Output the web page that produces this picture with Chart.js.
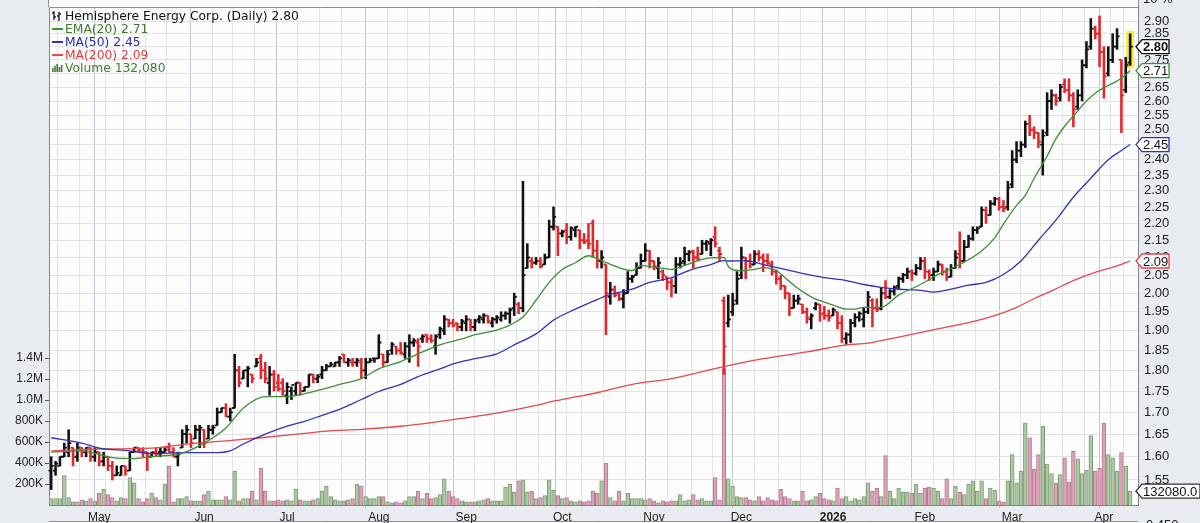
<!DOCTYPE html>
<html><head><meta charset="utf-8">
<script src="https://cdn.jsdelivr.net/npm/chart.js@4"></script>
<style>html,body{margin:0;padding:0;background:#e8ecf0;overflow:hidden}#wrap{width:1200px;height:523px}</style>
</head><body><div id="wrap"><canvas id="c" width="1200" height="523"></canvas></div>
<script>
const chartTitle = 'Hemisphere Energy Corp. (Daily)';
const opens = [1.57,1.57,1.58,1.60,1.61,1.62,1.60,1.62,1.61,1.62,
1.60,1.61,1.59,1.60,1.58,1.56,1.56,1.58,1.57,1.61,
1.62,1.61,1.61,1.60,1.61,1.61,1.61,1.62,1.61,1.60,
1.62,1.65,1.65,1.64,1.66,1.66,1.64,1.66,1.67,1.70,
1.71,1.69,1.71,1.80,1.78,1.80,1.79,1.81,1.83,1.80,
1.77,1.79,1.77,1.77,1.74,1.75,1.75,1.77,1.75,1.76,
1.79,1.78,1.79,1.80,1.81,1.81,1.82,1.84,1.82,1.82,
1.82,1.82,1.80,1.82,1.83,1.83,1.84,1.82,1.85,1.86,
1.85,1.84,1.86,1.87,1.87,1.88,1.89,1.88,1.86,1.89,
1.90,1.93,1.92,1.92,1.91,1.92,1.93,1.91,1.93,1.93,
1.94,1.92,1.93,1.93,1.94,1.945,1.96,1.97,1.96,2.07,
2.09,2.085,2.09,2.08,2.10,2.19,2.19,2.17,2.18,2.16,
2.18,2.18,2.15,2.15,2.20,2.12,2.09,2.08,1.99,2.01,
2.00,1.985,2.00,2.04,2.05,2.07,2.09,2.12,2.09,2.07,
2.06,2.045,2.03,2.02,2.08,2.09,2.11,2.12,2.10,2.11,
2.14,2.14,2.16,2.12,1.98,1.92,1.95,1.98,2.05,
2.10,2.09,2.08,2.11,2.10,2.09,2.08,2.06,2.04,2.02,
2.00,1.96,1.98,1.97,1.95,1.93,1.96,1.97,1.945,1.94,
1.94,1.95,1.92,1.88,1.89,1.92,1.935,1.93,1.95,1.98,1.96,
1.96,2.00,1.99,2.005,2.02,2.04,2.05,2.06,2.055,2.07,
2.09,2.06,2.05,2.06,2.08,2.06,2.045,2.07,2.11,2.09,
2.13,2.155,2.18,2.19,2.24,2.225,2.26,2.275,2.25,2.25,
2.32,2.40,2.43,2.45,2.52,2.50,2.49,2.45,2.49,2.60,
2.62,2.61,2.66,2.64,2.62,2.58,2.62,2.73,2.80,2.87,
2.85,2.78,2.70,2.75,2.80,2.75,2.64,2.74];
const highs = [1.60,1.59,1.60,1.63,1.66,1.62,1.63,1.62,1.62,1.62,
1.62,1.61,1.61,1.60,1.59,1.58,1.58,1.58,1.61,1.62,
1.62,1.62,1.61,1.61,1.62,1.62,1.62,1.63,1.62,1.61,
1.66,1.67,1.65,1.67,1.67,1.66,1.67,1.67,1.71,1.71,
1.72,1.71,1.84,1.81,1.80,1.81,1.79,1.83,1.84,1.82,
1.81,1.80,1.79,1.78,1.77,1.76,1.77,1.77,1.76,1.79,
1.79,1.79,1.81,1.815,1.82,1.82,1.835,1.84,1.83,1.83,
1.83,1.83,1.83,1.83,1.83,1.89,1.84,1.85,1.87,1.86,
1.87,1.87,1.89,1.88,1.88,1.89,1.89,1.89,1.89,1.91,
1.94,1.93,1.93,1.92,1.93,1.94,1.93,1.93,1.94,1.945,
1.94,1.935,1.94,1.95,1.95,1.96,2.00,1.975,2.33,2.14,
2.10,2.10,2.10,2.11,2.21,2.25,2.19,2.18,2.20,2.19,
2.19,2.18,2.17,2.20,2.21,2.15,2.12,2.08,2.03,2.02,
2.00,2.01,2.06,2.05,2.085,2.11,2.14,2.12,2.09,2.10,
2.065,2.045,2.04,2.10,2.10,2.13,2.12,2.12,2.13,2.15,
2.15,2.155,2.19,2.13,1.99,1.995,2.00,2.06,2.13,
2.10,2.11,2.12,2.12,2.11,2.11,2.09,2.065,2.05,2.02,
2.00,1.995,1.995,1.97,1.96,1.945,1.975,1.97,1.965,1.955,
1.96,1.95,1.94,1.895,1.93,1.945,1.95,1.96,2.005,1.985,1.985,
2.015,2.035,2.01,2.02,2.045,2.055,2.07,2.065,2.08,2.10,
2.10,2.065,2.07,2.09,2.08,2.07,2.08,2.12,2.175,2.15,
2.165,2.19,2.19,2.25,2.25,2.27,2.28,2.28,2.27,2.33,
2.43,2.46,2.46,2.53,2.55,2.51,2.49,2.50,2.63,2.64,
2.625,2.66,2.68,2.68,2.63,2.64,2.75,2.82,2.91,2.88,
2.92,2.80,2.80,2.85,2.87,2.75,2.76,2.85];
const lows = [1.53,1.56,1.58,1.60,1.60,1.58,1.59,1.60,1.60,1.59,
1.59,1.58,1.58,1.57,1.55,1.56,1.56,1.56,1.57,1.61,
1.61,1.60,1.57,1.60,1.60,1.60,1.61,1.61,1.60,1.58,
1.62,1.63,1.62,1.64,1.62,1.62,1.64,1.65,1.67,1.70,
1.69,1.68,1.71,1.76,1.78,1.76,1.77,1.81,1.78,1.77,
1.74,1.75,1.75,1.74,1.72,1.73,1.74,1.74,1.75,1.76,
1.77,1.77,1.78,1.80,1.81,1.81,1.81,1.82,1.81,1.81,
1.81,1.78,1.78,1.82,1.82,1.83,1.81,1.82,1.84,1.84,
1.84,1.83,1.82,1.86,1.81,1.87,1.87,1.87,1.84,1.88,
1.89,1.91,1.91,1.90,1.90,1.90,1.90,1.90,1.92,1.92,
1.92,1.91,1.92,1.925,1.93,1.92,1.94,1.945,1.95,2.07,
2.07,2.08,2.07,2.08,2.10,2.18,2.105,2.16,2.14,2.15,
2.16,2.125,2.14,2.125,2.10,2.07,2.07,1.89,1.97,1.99,
1.98,1.96,2.00,2.03,2.05,2.07,2.09,2.07,2.065,2.04,
2.035,2.01,1.99,2.00,2.07,2.08,2.09,2.07,2.09,2.11,
2.12,2.105,2.13,2.09,1.79,1.91,1.94,1.97,2.04,
2.04,2.07,2.08,2.09,2.06,2.08,2.05,2.025,2.01,1.985,
1.94,1.96,1.97,1.945,1.92,1.905,1.955,1.925,1.93,1.925,
1.94,1.905,1.87,1.865,1.87,1.91,1.925,1.91,1.945,1.91,1.95,
1.955,1.985,1.985,1.995,2.01,2.03,2.04,2.035,2.05,2.065,
2.04,2.035,2.035,2.06,2.05,2.035,2.045,2.07,2.07,2.09,
2.13,2.15,2.17,2.19,2.20,2.225,2.255,2.24,2.235,2.24,
2.31,2.39,2.41,2.44,2.48,2.47,2.44,2.35,2.48,2.57,
2.585,2.60,2.63,2.60,2.51,2.57,2.60,2.72,2.79,2.83,
2.725,2.61,2.69,2.74,2.79,2.49,2.63,2.73];
const closes = [1.58,1.585,1.60,1.62,1.63,1.60,1.62,1.61,1.62,1.60,
1.61,1.59,1.60,1.58,1.56,1.565,1.58,1.57,1.61,1.62,
1.615,1.61,1.60,1.61,1.605,1.61,1.615,1.61,1.60,1.605,
1.65,1.66,1.63,1.66,1.665,1.63,1.66,1.665,1.70,1.71,
1.69,1.70,1.80,1.77,1.80,1.805,1.78,1.82,1.80,1.78,
1.79,1.76,1.755,1.75,1.76,1.765,1.77,1.75,1.76,1.79,
1.78,1.785,1.80,1.81,1.815,1.82,1.83,1.82,1.825,1.82,
1.825,1.80,1.82,1.825,1.83,1.87,1.82,1.84,1.865,1.85,
1.845,1.86,1.87,1.875,1.86,1.885,1.88,1.875,1.885,1.905,
1.93,1.92,1.915,1.91,1.925,1.93,1.91,1.925,1.935,1.94,
1.925,1.93,1.935,1.94,1.945,1.955,1.99,1.96,2.05,2.10,
2.085,2.09,2.075,2.10,2.19,2.22,2.17,2.175,2.16,2.185,
2.19,2.15,2.145,2.14,2.12,2.09,2.10,2.00,2.01,1.995,
1.985,2.00,2.04,2.045,2.07,2.09,2.12,2.09,2.075,2.085,
2.05,2.03,2.02,2.08,2.085,2.11,2.115,2.10,2.095,2.14,
2.145,2.15,2.14,2.11,1.86,1.93,1.97,2.04,2.10,
2.09,2.08,2.11,2.10,2.09,2.085,2.06,2.04,2.02,2.00,
1.96,1.98,1.985,1.95,1.935,1.94,1.97,1.945,1.94,1.935,
1.955,1.92,1.88,1.89,1.92,1.935,1.945,1.95,1.99,1.96,1.955,
2.00,1.99,2.005,2.015,2.04,2.05,2.06,2.055,2.07,2.09,
2.06,2.05,2.06,2.08,2.06,2.045,2.07,2.10,2.09,2.13,
2.155,2.18,2.185,2.24,2.225,2.26,2.275,2.25,2.245,2.31,
2.40,2.43,2.45,2.52,2.50,2.49,2.46,2.48,2.60,2.62,
2.60,2.65,2.64,2.62,2.57,2.62,2.73,2.79,2.87,2.85,
2.78,2.69,2.75,2.80,2.84,2.62,2.73,2.80];
const volumes = [60000,60000,60000,280000,70000,30000,30000,50000,40000,60000,
40000,110000,150000,100000,70000,40000,70000,60000,260000,210000,
60000,30000,60000,110000,70000,50000,200000,370000,30000,60000,
60000,80000,40000,40000,40000,100000,130000,50000,50000,50000,
80000,50000,320000,40000,60000,60000,130000,50000,350000,130000,
40000,40000,50000,40000,50000,40000,150000,50000,40000,40000,
50000,60000,130000,180000,80000,50000,40000,40000,50000,60000,
200000,180000,80000,60000,60000,80000,80000,30000,20000,30000,
20000,40000,80000,80000,130000,60000,110000,60000,70000,100000,
250000,130000,80000,60000,40000,30000,30000,30000,40000,50000,
60000,40000,40000,40000,170000,200000,120000,230000,240000,120000,
130000,60000,70000,90000,240000,140000,90000,60000,70000,40000,
30000,40000,30000,40000,130000,110000,230000,400000,70000,40000,
130000,40000,110000,60000,60000,60000,50000,60000,40000,20000,
40000,30000,40000,40000,100000,40000,50000,100000,50000,60000,
40000,40000,260000,50000,1300000,250000,180000,80000,70000,
70000,50000,40000,80000,40000,70000,50000,40000,150000,80000,
60000,40000,40000,130000,40000,50000,80000,110000,60000,50000,
40000,160000,60000,80000,40000,60000,50000,80000,210000,130000,160000,
80000,470000,130000,60000,160000,120000,120000,110000,200000,110000,
160000,170000,160000,130000,60000,250000,60000,180000,120000,100000,
200000,230000,130000,230000,60000,160000,140000,40000,30000,230000,
480000,210000,320000,780000,640000,340000,480000,750000,390000,300000,
210000,290000,450000,220000,510000,440000,300000,330000,660000,320000,
350000,780000,480000,450000,320000,500000,370000,132080];

const emaIdx = [0,7,14,19,23,30,35,40,44,49,54,58,62,66,71,75,80,84,89,94,97,102,105,108,111,114,117,120,123,126,130,133,135,139,142,145,148,151,154,155,157,159,161,163,166,168,170,173,175,177,179,182,184,186,190,194,199,203,208,213,216,217,218,221,223,225,228,230,232,234,237,239,241,244,246,247];
const emaVals = [1.61,1.613,1.598,1.596,1.60,1.608,1.63,1.664,1.71,1.737,1.737,1.744,1.754,1.766,1.78,1.804,1.822,1.841,1.864,1.879,1.89,1.902,1.915,1.936,1.981,2.03,2.066,2.085,2.105,2.091,2.071,2.063,2.077,2.071,2.066,2.077,2.091,2.099,2.10,2.075,2.063,2.063,2.066,2.071,2.063,2.043,2.022,1.997,1.984,1.976,1.968,1.957,1.957,1.962,1.962,1.995,2.024,2.052,2.08,2.119,2.157,2.177,2.198,2.255,2.286,2.339,2.412,2.469,2.512,2.547,2.600,2.628,2.648,2.672,2.695,2.71];
const ma50Idx = [0,7,11,18,23,31,38,41,44,49,54,58,62,66,71,75,80,84,89,93,97,102,106,111,115,120,124,128,133,137,142,146,151,154,155,159,163,168,173,177,182,186,190,194,199,202,206,210,214,218,222,226,230,234,238,242,245,247];
const ma50Vals = [1.642,1.630,1.619,1.613,1.607,1.609,1.609,1.613,1.628,1.650,1.668,1.679,1.693,1.707,1.730,1.749,1.766,1.785,1.804,1.819,1.829,1.841,1.864,1.892,1.928,1.957,1.978,1.997,2.011,2.030,2.043,2.063,2.080,2.091,2.09,2.091,2.080,2.066,2.052,2.043,2.035,2.024,2.016,2.011,2.008,2.003,2.011,2.022,2.030,2.052,2.090,2.150,2.210,2.280,2.340,2.400,2.430,2.45];
const ma200Idx = [0,11,23,31,40,48,58,63,71,80,89,94,102,111,115,120,125,133,142,151,155,163,173,182,186,194,203,213,218,221,225,230,234,239,244,247];
const ma200Vals = [1.613,1.617,1.619,1.628,1.635,1.642,1.652,1.657,1.661,1.668,1.679,1.686,1.698,1.716,1.726,1.736,1.746,1.766,1.780,1.802,1.812,1.829,1.846,1.864,1.867,1.884,1.905,1.930,1.948,1.962,1.985,2.012,2.035,2.058,2.076,2.09];

const monthLabels = ['May','Jun','Jul','Aug','Sep','Oct','Nov','Dec','2026','Feb','Mar','Apr'];
const monthIdx = [11,35,54,75,95,117,138,158,179,200,220,241];
const priceTicks = [2.90,2.85,2.80,2.75,2.70,2.65,2.60,2.55,2.50,2.45,2.40,2.35,2.30,2.25,2.20,2.15,2.10,2.05,2.00,1.95,1.90,1.85,1.80,1.75,1.70,1.65,1.60,1.55];
const volumeTicks = [200000,400000,600000,800000,1000000,1200000,1400000];
const volumeTickLabels = ['200K','400K','600K','800K','1.0M','1.2M','1.4M'];

const N = closes.length;
const isUp = i => i === 0 || closes[i] >= closes[i-1];
const UP = '#111111', DOWN = '#e3262a';
const C_EMA = '#3f8f36', C_MA50 = '#3333b2', C_MA200 = '#e5484d';
const FONT = '"Liberation Sans", Arial, sans-serif';
const LFONT = '"DejaVu Sans", Verdana, sans-serif';

function tag(ctx, x, y, w, text, color, bold) {
  const h = 14;
  ctx.beginPath();
  ctx.moveTo(x, y); ctx.lineTo(x + 6, y - h/2); ctx.lineTo(x + w, y - h/2);
  ctx.lineTo(x + w, y + h/2); ctx.lineTo(x + 6, y + h/2); ctx.closePath();
  ctx.fillStyle = '#ffffff'; ctx.fill();
  ctx.strokeStyle = color; ctx.lineWidth = 1.3; ctx.stroke();
  ctx.fillStyle = '#111'; ctx.font = (bold ? 'bold ' : '') + '13px ' + FONT;
  ctx.textAlign = 'left'; ctx.textBaseline = 'middle';
  ctx.fillText(text, x + 7, y + 1);
}

const overlay = {
  id: 'overlay',
  beforeDraw(chart) {
    const {ctx, chartArea: a} = chart;
    ctx.save();
    ctx.fillStyle = '#e8ecf0'; ctx.fillRect(0, 0, chart.width, chart.height);
    ctx.fillStyle = '#fdfdfe'; ctx.fillRect(a.left, a.top, a.right - a.left, a.bottom - a.top);
    ctx.fillStyle = '#fafbfc'; ctx.fillRect(a.left, 0, a.right - a.left, a.top);
    ctx.fillRect(a.left, 521, a.right - a.left, 2);
    ctx.strokeStyle = '#8a9096'; ctx.lineWidth = 1;
    ctx.beginPath(); ctx.moveTo(a.left, 521.5); ctx.lineTo(a.right, 521.5); ctx.stroke();
    ctx.beginPath(); ctx.moveTo(a.left - 0.5, 0); ctx.lineTo(a.left - 0.5, a.top); ctx.moveTo(a.right + 0.5, 0); ctx.lineTo(a.right + 0.5, a.top); ctx.stroke();
    ctx.restore();
  },
  beforeDatasetsDraw(chart) {
    const {ctx} = chart; const xs = chart.scales.x, ys = chart.scales.y;
    const L = N - 1;
    const x = xs.getPixelForValue(L);
    const t = ys.getPixelForValue(highs[L]) - 3, b = ys.getPixelForValue(lows[L]) + 3;
    ctx.save(); ctx.fillStyle = '#f6ef3c'; ctx.fillRect(x - 4, t, 8, b - t); ctx.restore();
  },
  afterDatasetDraw(chart, args) {
    if (args.index !== 3) return;
    const {ctx} = chart; const xs = chart.scales.x, ys = chart.scales.y;
    ctx.save(); ctx.lineWidth = 1.8;
    for (let i = 0; i < N; i++) {
      const x = xs.getPixelForValue(i);
      ctx.strokeStyle = isUp(i) ? UP : DOWN;
      ctx.beginPath();
      const yo = ys.getPixelForValue(opens[i]), yc = ys.getPixelForValue(closes[i]);
      ctx.moveTo(x - 2.6, yo); ctx.lineTo(x, yo);
      ctx.moveTo(x, yc); ctx.lineTo(x + 2.6, yc);
      ctx.stroke();
    }
    ctx.restore();
  },
  afterDraw(chart) {
    const {ctx, chartArea: a} = chart; const ys = chart.scales.y, yv = chart.scales.yv;
    ctx.save();
    ctx.strokeStyle = '#8a9096'; ctx.lineWidth = 1;
    ctx.beginPath(); ctx.moveTo(a.left, a.top + 0.5); ctx.lineTo(a.right, a.top + 0.5); ctx.stroke();
    const lx = a.left + 16;
    ctx.textAlign = 'left'; ctx.textBaseline = 'alphabetic';
    ctx.font = '12.3px ' + LFONT;
    ctx.fillStyle = '#111';
    ctx.fillText(chartTitle + ' ' + closes[N-1].toFixed(2), lx, 20);
    ctx.strokeStyle = '#222'; ctx.lineWidth = 1.4;
    ctx.beginPath();
    ctx.moveTo(a.left + 5, 11); ctx.lineTo(a.left + 5, 20); ctx.moveTo(a.left + 3, 13); ctx.lineTo(a.left + 5, 13); ctx.moveTo(a.left + 5, 17); ctx.lineTo(a.left + 7, 17);
    ctx.moveTo(a.left + 10, 12); ctx.lineTo(a.left + 10, 21); ctx.moveTo(a.left + 8, 16); ctx.lineTo(a.left + 10, 16); ctx.moveTo(a.left + 10, 14); ctx.lineTo(a.left + 12, 14);
    ctx.stroke();
    const items = [
      ['EMA(20) ' + emaVals[emaVals.length-1].toFixed(2), C_EMA, '#3b7d2d', 33],
      ['MA(50) ' + ma50Vals[ma50Vals.length-1].toFixed(2), C_MA50, '#2b2ba6', 46],
      ['MA(200) ' + ma200Vals[ma200Vals.length-1].toFixed(2), C_MA200, '#e03c3c', 59]
    ];
    for (const [t, lc, tc, by] of items) {
      ctx.strokeStyle = lc; ctx.lineWidth = 2;
      ctx.beginPath(); ctx.moveTo(a.left + 3, by - 4); ctx.lineTo(a.left + 14, by - 4); ctx.stroke();
      ctx.fillStyle = tc; ctx.fillText(t, lx, by);
    }
    ctx.fillStyle = '#3b7d2d';
    const hs = [4, 6, 8, 5, 7];
    hs.forEach((h, k) => ctx.fillRect(a.left + 3 + k * 2.2, 72 - h, 1.6, h));
    ctx.fillText('Volume ' + volumes[N-1].toLocaleString('en-US'), lx, 72);
    const tx = a.right - 2;
    tag(ctx, tx, ys.getPixelForValue(ma200Vals[ma200Vals.length-1]), 33, ma200Vals[ma200Vals.length-1].toFixed(2), C_MA200, false);
    tag(ctx, tx, ys.getPixelForValue(ma50Vals[ma50Vals.length-1]), 33, ma50Vals[ma50Vals.length-1].toFixed(2), C_MA50, false);
    tag(ctx, tx, ys.getPixelForValue(emaVals[emaVals.length-1]), 33, emaVals[emaVals.length-1].toFixed(2), C_EMA, false);
    tag(ctx, tx, ys.getPixelForValue(closes[N-1]), 33, closes[N-1].toFixed(2), '#111', true);
    tag(ctx, tx, yv.getPixelForValue(volumes[N-1]), 64, volumes[N-1].toFixed(1), '#333', false);
    ctx.fillStyle = '#222'; ctx.font = '13px ' + FONT; ctx.textBaseline = 'alphabetic';
    ctx.fillText('10 %', a.right + 5, 3);
    ctx.textBaseline = 'top';
    ctx.fillText('0.450', a.right + 8, 519);
    ctx.restore();
  }
};

const volColors = volumes.map((v, i) => isUp(i) ? '#aec7a4' : '#dca3b8');
const volBorders = volumes.map((v, i) => isUp(i) ? '#7f9e74' : '#b67a93');

new Chart(document.getElementById('c'), {
  type: 'bar',
  data: {
    datasets: [
      { type: 'line', label: 'EMA(20)', data: emaIdx.map((x, i) => ({x, y: emaVals[i]})), yAxisID: 'y', borderColor: C_EMA, borderWidth: 1.3, pointRadius: 0, cubicInterpolationMode: 'monotone', order: 1 },
      { type: 'line', label: 'MA(50)', data: ma50Idx.map((x, i) => ({x, y: ma50Vals[i]})), yAxisID: 'y', borderColor: C_MA50, borderWidth: 1.3, pointRadius: 0, cubicInterpolationMode: 'monotone', order: 1 },
      { type: 'line', label: 'MA(200)', data: ma200Idx.map((x, i) => ({x, y: ma200Vals[i]})), yAxisID: 'y', borderColor: C_MA200, borderWidth: 1.3, pointRadius: 0, cubicInterpolationMode: 'monotone', order: 1 },
      { type: 'bar', label: 'Price', data: closes.map((c, i) => ({x: i, y: [lows[i], highs[i]]})), yAxisID: 'y', backgroundColor: closes.map((c, i) => isUp(i) ? UP : DOWN), barThickness: 1.9, grouped: false, order: 2 },
      { type: 'bar', label: 'Volume', data: volumes.map((v, i) => ({x: i, y: v})), yAxisID: 'yv', backgroundColor: volColors, borderColor: volBorders, borderWidth: 1, barThickness: 3.8, grouped: false, order: 3 }
    ]
  },
  options: {
    responsive: false, animation: false, devicePixelRatio: 1,
    layout: { padding: { top: 7, left: 0, right: 0, bottom: 0 } },
    plugins: { legend: { display: false }, tooltip: { enabled: false } },
    scales: {
      x: {
        type: 'linear', min: -0.5, max: 248.8, offset: false, position: 'bottom',
        afterBuildTicks(s) {
          const t = monthIdx.map(v => ({value: v}));
          for (let v = 4; v < N; v += 5) if (!monthIdx.some(m => Math.abs(m - v) < 2)) t.push({value: v});
          t.sort((p, q) => p.value - q.value);
          s.ticks = t;
        },
        afterFit(s) { s.height = 18; s.paddingLeft = 0; s.paddingRight = 0; },
        grid: { color: c => (c.tick && monthIdx.includes(c.tick.value)) ? '#c2c8ce' : '#e2e6ea', tickLength: 3 },
        border: { color: '#7f858b' },
        ticks: {
          autoSkip: false, maxRotation: 0, padding: 2, color: '#222',
          font: c => ({ family: FONT, size: 12, weight: (c.tick && monthLabels[monthIdx.indexOf(c.tick.value)] === '2026') ? 'bold' : 'normal' }),
          callback: v => { const k = monthIdx.indexOf(v); return k >= 0 ? monthLabels[k] : ''; }
        }
      },
      y: {
        type: 'logarithmic', position: 'right', min: 1.498, max: 2.956,
        afterBuildTicks(s) { s.ticks = priceTicks.map(v => ({value: v})); },
        afterFit(s) { s.width = 62; s.paddingTop = 0; s.paddingBottom = 0; },
        grid: { color: '#dfe3e7', tickLength: 3 },
        border: { color: '#7f858b' },
        ticks: { autoSkip: false, callback: v => Number(v).toFixed(2), color: '#222', font: { family: FONT, size: 13 }, padding: 3 }
      },
      yv: {
        type: 'linear', position: 'left', min: 0, max: 4743000,
        afterBuildTicks(s) { s.ticks = volumeTicks.map(v => ({value: v})); },
        afterFit(s) { s.width = 49; s.paddingTop = 0; s.paddingBottom = 0; },
        grid: { drawOnChartArea: false, tickLength: 4, color: '#555' },
        border: { color: '#7f858b' },
        ticks: { autoSkip: false, callback: v => volumeTickLabels[volumeTicks.indexOf(v)], color: '#222', font: { family: FONT, size: 12 }, padding: 2 }
      }
    }
  },
  plugins: [overlay]
});
</script>
</body></html>
